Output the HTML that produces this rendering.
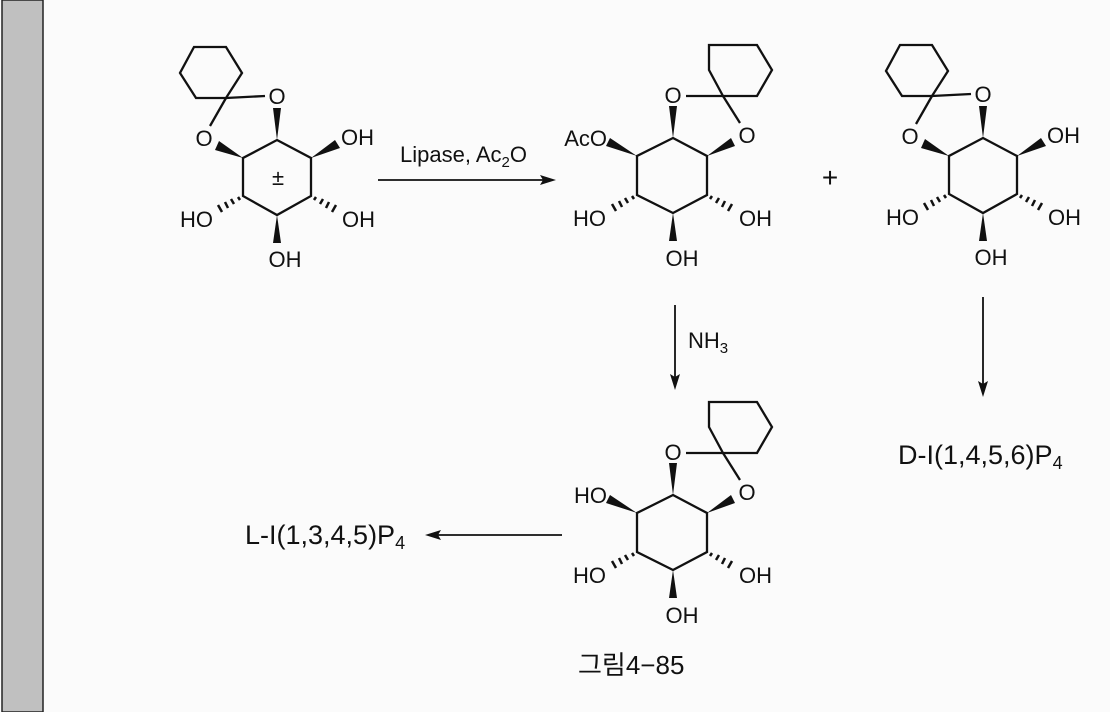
<!DOCTYPE html>
<html><head><meta charset="utf-8"><style>
html,body{margin:0;padding:0;background:#fbfbfb;}
svg{display:block}
text{font-family:"Liberation Sans","Noto Sans CJK KR",sans-serif;fill:#111}
.a{font-size:22px}
.l{font-size:22px}
.b{font-size:27px}
</style></head><body>
<svg width="1110" height="712" viewBox="0 0 1110 712" xmlns="http://www.w3.org/2000/svg">
<rect x="0" y="0" width="1110" height="712" fill="#fbfbfb"/>
<rect x="2" y="0" width="41" height="712" fill="#c0c0c0" stroke="#222" stroke-width="1.5"/>
<defs>
<g id="m1" stroke="#111" stroke-width="2.3" fill="none">
  <polygon points="194,47 226,47 242,73 226,98 196,98 180,73"/>
  <line x1="226" y1="98" x2="265" y2="96"/>
  <line x1="226" y1="98" x2="210" y2="126"/>
  <polygon points="277,140 311,158 311,196 277,215 243,196 243,158"/>
  <polygon points="277,140 273,108 281,108" fill="#111" stroke="none"/>
  <polygon points="243,158 215,150 219,141" fill="#111" stroke="none"/>
  <polygon points="311,158 335,140 340,148" fill="#111" stroke="none"/>
  <polygon points="277,215 273,243 281,243" fill="#111" stroke="none"/>
  <g stroke-width="2.5">
    <line x1="240" y1="200" x2="238" y2="197"/>
    <line x1="234" y1="204" x2="231" y2="199"/>
    <line x1="228" y1="208" x2="225" y2="202"/>
    <line x1="222" y1="212" x2="218" y2="205"/>
    <line x1="314" y1="200" x2="316" y2="197"/>
    <line x1="320" y1="204" x2="323" y2="199"/>
    <line x1="326" y1="208" x2="329" y2="202"/>
    <line x1="332" y1="212" x2="336" y2="205"/>
  </g>
</g>
<g id="m2" stroke="#111" stroke-width="2.3" fill="none">
  <polygon points="709,45 757,45 772,70 757,96 723,96 709,70"/>
  <line x1="686" y1="96" x2="723" y2="96"/>
  <line x1="723" y1="96" x2="740" y2="123"/>
  <polygon points="673,138 707,156 707,195 673,213 637,195 637,156"/>
  <polygon points="673,138 669,106 677,106" fill="#111" stroke="none"/>
  <polygon points="637,156 610,138 606,146" fill="#111" stroke="none"/>
  <polygon points="707,156 731,138 735,146" fill="#111" stroke="none"/>
  <polygon points="673,213 669,241 677,241" fill="#111" stroke="none"/>
  <g stroke-width="2.5">
  <line x1="634" y1="199" x2="632" y2="196"/>
  <line x1="628" y1="203" x2="625" y2="198"/>
  <line x1="622" y1="207" x2="619" y2="201"/>
  <line x1="616" y1="211" x2="612" y2="204"/>
  <line x1="710" y1="199" x2="712" y2="196"/>
  <line x1="716" y1="203" x2="719" y2="198"/>
  <line x1="722" y1="207" x2="725" y2="201"/>
  <line x1="728" y1="211" x2="732" y2="204"/>
  </g>
</g>
</defs>

<g class="a">
<use href="#m1"/>
<text x="277" y="104" text-anchor="middle">O</text>
<text x="204" y="146" text-anchor="middle">O</text>
<text x="341" y="145">OH</text>
<text x="342" y="227">OH</text>
<text x="213" y="227" text-anchor="end">HO</text>
<text x="285" y="267" text-anchor="middle">OH</text>
<text x="278" y="185" text-anchor="middle">±</text>

<g transform="translate(706,-2)">
<use href="#m1"/>
<text x="277" y="104" text-anchor="middle">O</text>
<text x="204" y="146" text-anchor="middle">O</text>
<text x="341" y="145">OH</text>
<text x="342" y="227">OH</text>
<text x="213" y="227" text-anchor="end">HO</text>
<text x="285" y="267" text-anchor="middle">OH</text>
</g>

<use href="#m2"/>
<text x="673" y="103" text-anchor="middle">O</text>
<text x="747" y="143" text-anchor="middle">O</text>
<text x="607" y="146" text-anchor="end">AcO</text>
<text x="606" y="226" text-anchor="end">HO</text>
<text x="739" y="226">OH</text>
<text x="682" y="266" text-anchor="middle">OH</text>

<g transform="translate(0,357)">
<use href="#m2"/>
<text x="673" y="103" text-anchor="middle">O</text>
<text x="747" y="143" text-anchor="middle">O</text>
<text x="607" y="146" text-anchor="end">HO</text>
<text x="606" y="226" text-anchor="end">HO</text>
<text x="739" y="226">OH</text>
<text x="682" y="266" text-anchor="middle">OH</text>
</g>
</g>

<g stroke="#111" stroke-width="1.8">
<line x1="378" y1="180" x2="545" y2="180"/>
<line x1="675" y1="305" x2="675" y2="378"/>
<line x1="983" y1="297" x2="983" y2="385"/>
<line x1="562" y1="535" x2="438" y2="535"/>
</g>
<g fill="#111">
<polygon points="556,180 540,175 543,180 540,185"/>
<polygon points="675,390 670,374 675,377 680,374"/>
<polygon points="983,397 978,381 983,384 988,381"/>
<polygon points="425,535 441,530 438,535 441,540"/>
</g>
<text class="l" x="400" y="162">Lipase, Ac<tspan style="font-size:15px" dy="5">2</tspan><tspan dy="-5">O</tspan></text>
<text x="830" y="187" text-anchor="middle" style="font-size:28px">+</text>
<text class="l" x="688" y="348">NH<tspan style="font-size:15px" dy="5">3</tspan></text>
<text class="b" x="898" y="464">D-I(1,4,5,6)P<tspan style="font-size:18px" dy="5">4</tspan></text>
<text class="b" x="245" y="544">L-I(1,3,4,5)P<tspan style="font-size:18px" dy="5">4</tspan></text>
<text x="578" y="674" style="font-size:26px">그림4−85</text>
</svg>
</body></html>
